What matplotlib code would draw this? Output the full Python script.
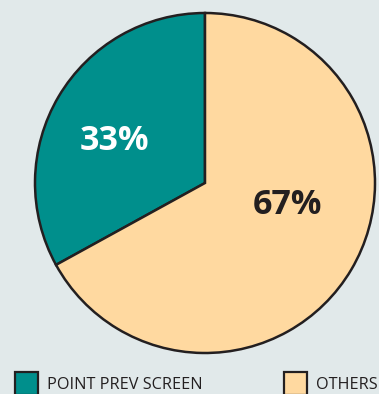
import matplotlib.pyplot as plt
from matplotlib.patches import Rectangle

# share of cases
categories = ["POINT PREV SCREEN", "OTHERS"]
shares = [33, 67]
colors = ["#008F8C", "#FFD9A0"]
label_colors = ["white", "#231F20"]
label_pos = [(-0.53, 0.25), (0.485, -0.13)]

BG = "#E1E9EA"
EDGE = "#231F20"
W, H = 379, 394

fig = plt.figure(figsize=(W / 100, H / 100), dpi=100, facecolor=BG)

# pie centred at (205, 183) px from top-left, radius 170 px
cx, cy, r = 205, 183, 170
ax = fig.add_axes([(cx - r) / W, (H - cy - r) / H, 2 * r / W, 2 * r / H])
ax.set_facecolor(BG)
ax.pie(shares, colors=colors, startangle=90, counterclock=True,
       wedgeprops=dict(edgecolor=EDGE, linewidth=1.8))
ax.set_xlim(-1.0, 1.0)
ax.set_ylim(-1.0, 1.0)
ax.axis("off")

for val, col, (x, y) in zip(shares, label_colors, label_pos):
    ax.text(x, y, f"{val}%", color=col, fontsize=24.5, fontweight="bold",
            family="Open Sans", ha="center", va="center")

# legend row along the bottom edge
leg = fig.add_axes([0, 0, 1, 1])
leg.set_xlim(0, W)
leg.set_ylim(H, 0)
leg.axis("off")
for (x0, tx), name, col in zip([(15, 47), (284, 316)], categories, colors):
    leg.add_patch(Rectangle((x0, 372), 23, 23, facecolor=col, edgecolor=EDGE,
                            linewidth=1.6))
    leg.text(tx, 385, name, fontsize=11.7, family="Open Sans", color=EDGE,
             ha="left", va="center")

fig.savefig("out.png", dpi=100, facecolor=BG)
